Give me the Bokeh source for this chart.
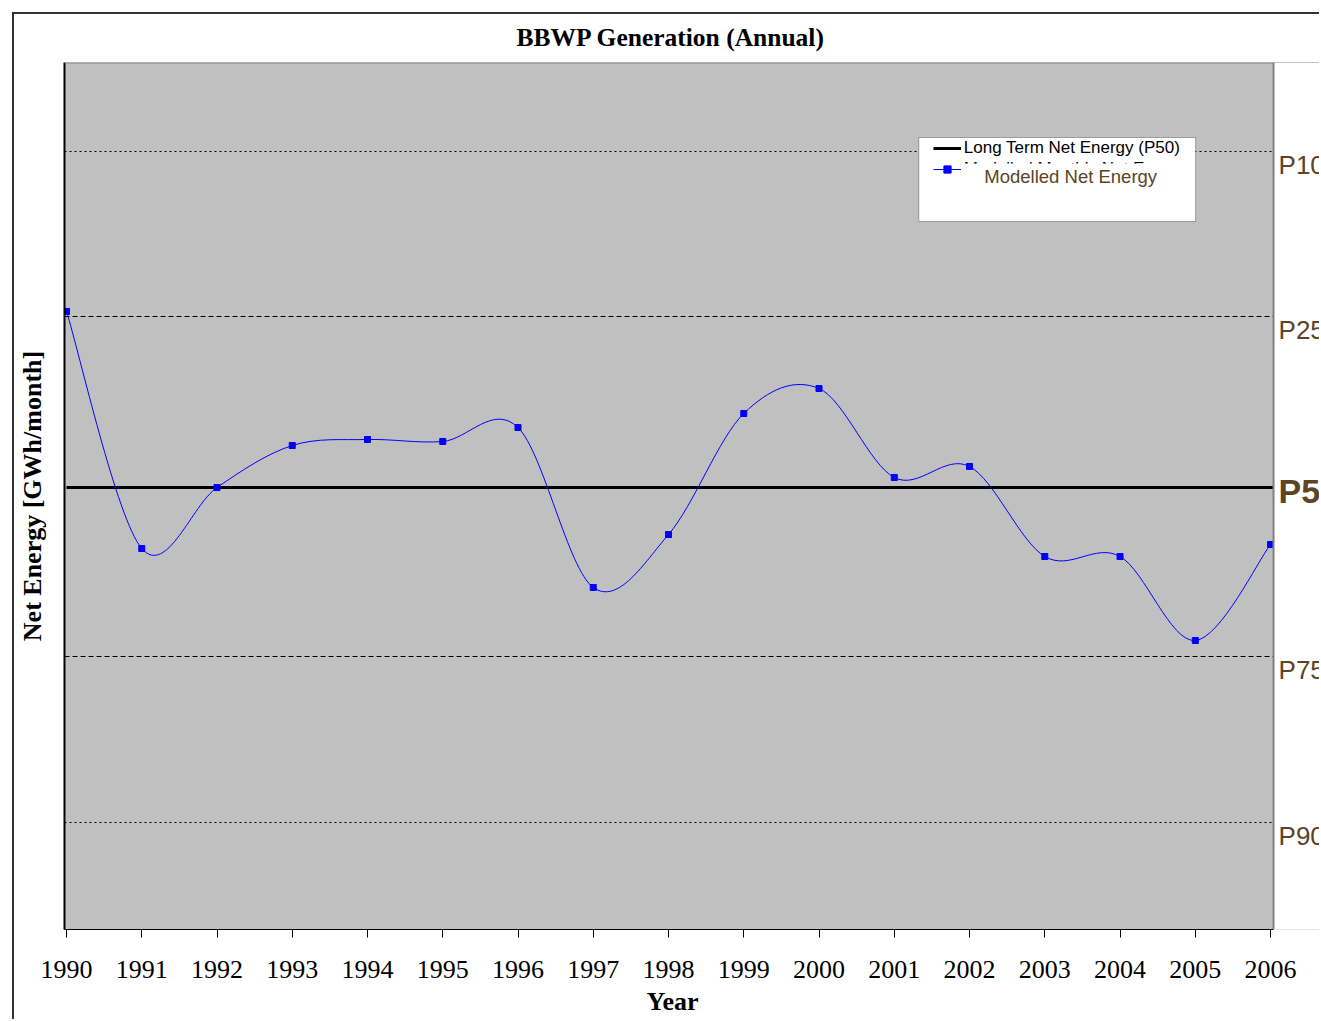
from bokeh.plotting import figure
from bokeh.models import (Span, Label, BoxAnnotation, Legend, LegendItem,
                          FixedTicker, Range1d, Title)
from bokeh.embed import file_html
from bokeh.resources import INLINE

# ---------------- data ----------------
years = [1990, 1991, 1992, 1993, 1994, 1995, 1996, 1997, 1998,
         1999, 2000, 2001, 2002, 2003, 2004, 2005, 2006]
net_energy = [61.8, 38.1, 44.2, 48.4, 49.0, 48.8, 50.2, 34.2, 39.5,
              51.6, 54.1, 45.2, 46.3, 37.3, 37.3, 28.9, 38.5]
p_labels = ["P10", "P25", "P50", "P75", "P90"]
p_values = [77.8, 61.3, 44.2, 27.3, 10.7]
p_dashes = ["2 3", "5 3", "solid", "5 3", "2 3"]

title_text = "BBWP Generation (Annual)"
x_title = "Year"
y_title = "Net Energy [GWh/month]"
legend_p50 = "Long Term Net Energy (P50)"
legend_model = "Modelled Monthly Net Energy"
overlay_text = "Modelled Net Energy"

# ---------------- scales (reference pixel geometry) ----------------
px_per_year = 75.3125
px_per_unit = 10.0
x_lo = years[0] - 2 / px_per_year          # plot-area left edge
x_edge = years[-1] + 3 / px_per_year       # plot-area right edge
x_canvas_end = years[0] + (1321 - 65) / px_per_year
y_lo, y_hi = 0.0, 86.7

def xs(px):
    return years[0] + (px - 65) / px_per_year

def ys(py):
    return (929 - py) / px_per_unit

SERIF = "Liberation Serif"
SANS = "Liberation Sans"
BROWN = "#5C4424"

p = figure(width=1307, height=1007, x_range=Range1d(x_lo, x_canvas_end),
           y_range=Range1d(y_lo, y_hi), output_backend="svg",
           toolbar_location=None, min_border_left=49, min_border_right=0,
           min_border_top=48, min_border_bottom=92)
p.styles = {"margin-left": "12px", "margin-top": "12px",
            "border-left": "2px solid #333333", "border-top": "2px solid #333333"}

p.title.text = title_text
p.title.align = "left"
p.title.offset = 452
p.title.vertical_align = "top"
p.title.text_font = SERIF
p.title.text_font_style = "bold"
p.title.text_font_size = "25.5px"
p.title.text_color = "black"
p.title.standoff = 17

p.background_fill_color = "#C0C0C0"
p.border_fill_color = "white"
p.outline_line_alpha = 0
p.xgrid.visible = False
p.ygrid.visible = False

xa = p.xaxis[0]
xa.ticker = FixedTicker(ticks=years)
xa.bounds = (x_lo, x_edge)
xa.major_tick_out = 8
xa.major_tick_in = 0
xa.minor_tick_out = 0
xa.minor_tick_in = 0
xa.axis_line_color = "black"
xa.major_tick_line_color = "black"
xa.major_label_text_font = SERIF
xa.major_label_text_font_size = "26px"
xa.major_label_text_color = "black"
xa.major_label_standoff = 23

p.add_layout(Title(text=x_title, align="left", offset=582, standoff=9,
                   text_font=SERIF, text_font_style="bold", text_font_size="26px",
                   text_color="black"), "below")

ya = p.yaxis[0]
ya.ticker = FixedTicker(ticks=[])
ya.major_tick_out = 0
ya.major_tick_in = 0
ya.minor_tick_out = 0
ya.minor_tick_in = 0
ya.major_label_text_font_size = "0px"
ya.major_label_standoff = 0
ya.axis_line_color = "black"
ya.axis_line_width = 2
ya.axis_label = y_title
ya.axis_label_text_font = SERIF
ya.axis_label_text_font_style = "bold"
ya.axis_label_text_font_size = "26px"
ya.axis_label_text_color = "black"
ya.axis_label_standoff = 18

# plot-area top border
p.add_layout(Span(location=y_hi, dimension="width", line_color="#808080", line_width=2))

# ---------------- percentile lines ----------------
p50_renderer = None
for lab, val, dash in zip(p_labels, p_values, p_dashes):
    if lab == "P50":
        p50_renderer = p.line(x=[years[0], x_edge], y=[val, val],
                              line_color="black", line_width=3)
    else:
        p.add_layout(Span(location=val, dimension="width", line_color="black",
                          line_width=1, line_dash=dash))

# ---------------- smoothed modelled series (Excel-style smoothing) ----------------
n = len(years)
x0s, y0s, x1s, y1s, cx0s, cy0s, cx1s, cy1s = [], [], [], [], [], [], [], []
for i in range(n - 1):
    xa_, ya_ = years[max(i - 1, 0)], net_energy[max(i - 1, 0)]
    xb, yb = years[i], net_energy[i]
    xc, yc = years[i + 1], net_energy[i + 1]
    xd, yd = years[min(i + 2, n - 1)], net_energy[min(i + 2, n - 1)]
    x0s.append(xb); y0s.append(yb); x1s.append(xc); y1s.append(yc)
    cx0s.append(xb + (xc - xa_) / 6); cy0s.append(yb + (yc - ya_) / 6)
    cx1s.append(xc - (xd - xb) / 6); cy1s.append(yc - (yd - yb) / 6)

bez = p.bezier(x0=x0s, y0=y0s, x1=x1s, y1=y1s, cx0=cx0s, cy0=cy0s,
               cx1=cx1s, cy1=cy1s, line_color="#0000FF", line_width=1)
pts = p.scatter(x=years, y=net_energy, marker="square", size=6,
                fill_color="#0000FF", line_color="#0000FF")

# ---------------- area right of the plot (white) with percentile labels ----------------
p.add_layout(BoxAnnotation(left=x_edge, fill_color="white", fill_alpha=1.0, line_alpha=0))
p.add_layout(Span(location=x_edge, dimension="height", line_color="#808080", line_width=2))
for lab, val in zip(p_labels, p_values):
    if lab == "P50":
        p.add_layout(Label(x=x_edge, y=val, x_offset=5, y_offset=-3, text=lab,
                           text_font=SANS, text_font_style="bold",
                           text_font_size="34px", text_color=BROWN,
                           text_baseline="middle"))
    else:
        p.add_layout(Label(x=x_edge, y=val, x_offset=5, y_offset=2, text=lab,
                           text_font=SANS, text_font_size="26px",
                           text_color=BROWN, text_baseline="top"))

# ---------------- legend ----------------
p.add_layout(BoxAnnotation(left=xs(918), right=xs(1195), top=ys(137), bottom=ys(221),
                           fill_color="white", fill_alpha=1.0,
                           line_color="black", line_width=1))
legend = Legend(items=[LegendItem(label=" ", renderers=[p50_renderer]),
                       LegendItem(label=" ", renderers=[bez, pts])],
                location=(865, 747), margin=0, padding=4, spacing=3,
                glyph_width=28, glyph_height=18, label_standoff=3,
                label_text_font=SANS, label_text_font_size="17px",
                label_height=18, background_fill_alpha=0, border_line_alpha=0)
p.add_layout(legend)
legend_texts = [legend_p50, legend_model]
legend_rows = [147, 168]
for txt, row in zip(legend_texts, legend_rows):
    p.add_layout(Label(x=xs(963), y=ys(row), text=txt, text_font=SANS,
                       text_font_size="17px", text_color="black",
                       text_align="left", text_baseline="middle"))
# the chart's own overlay, which hides most of the second legend label
p.add_layout(BoxAnnotation(left=xs(962), right=xs(1188), top=ys(163), bottom=ys(205),
                           fill_color="white", fill_alpha=1.0, line_alpha=0))
p.add_layout(Label(x=xs(1070), y=ys(176), text=overlay_text, text_font=SANS,
                   text_font_size="18.5px", text_color=BROWN,
                   text_align="center", text_baseline="middle"))

open("out.html", "w").write(file_html(p, INLINE))
